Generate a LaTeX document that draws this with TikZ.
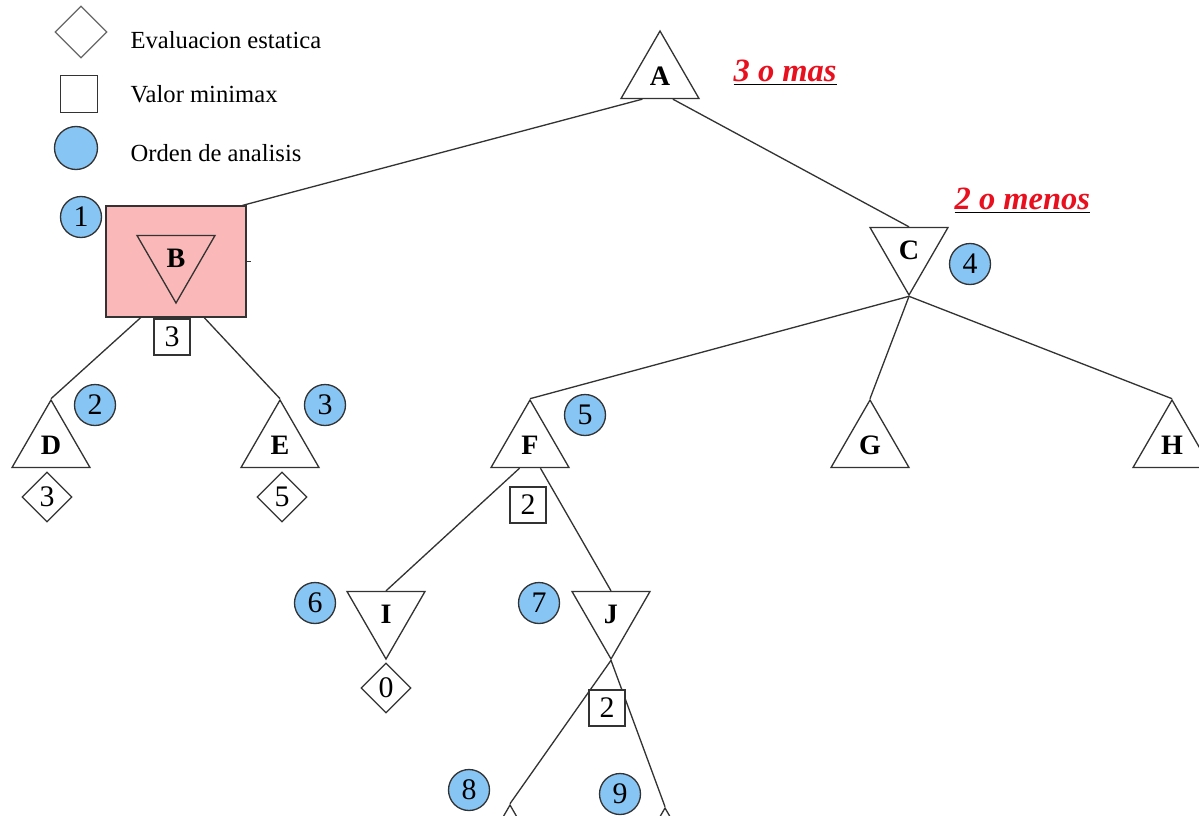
\documentclass[tikz,border=0pt]{standalone}
\usepackage{fontspec}
\setmainfont{Liberation Serif}
\usepackage{xcolor}
\usepackage{tikz}
\usetikzlibrary{shapes.geometric, calc}
\definecolor{colorO}{HTML}{87C5F5}
\definecolor{colorB}{HTML}{FBB8B8}
\definecolor{colorR}{HTML}{E8101E}
\definecolor{colorL}{HTML}{333333}
\tikzset{
  maxnode/.style={draw, regular polygon, regular polygon sides=3, minimum size=1.8cm, inner sep=0pt, font=\fontsize{16}{16}\selectfont\bfseries},
  minnode/.style={maxnode, shape border rotate=180},
  orden/.style={draw=colorL, fill=colorO, circle, minimum size=0.82cm, inner sep=0pt, font=\fontsize{17}{17}\selectfont},
  valor/.style={draw, fill=white, rectangle, minimum size=0.72cm, inner sep=0pt, font=\fontsize{17}{17}\selectfont},
  estatica/.style={draw, fill=white, diamond, minimum size=1cm, inner sep=0pt, font=\fontsize{17}{17}\selectfont},
  leyenda/.style={anchor=west, inner sep=0pt, font=\fontsize{14}{14}\selectfont},
  cota/.style={anchor=west, inner sep=0pt, font=\fontsize{18.5}{18.5}\selectfont\bfseries\itshape}
}

\begin{document}
\begin{tikzpicture}[x=0.02cm, y=-0.02cm, line width=0.75pt, draw=colorL]
        \clip (0,0) rectangle (1199,815);

        \node[draw=black!60, diamond, minimum size=1.04cm, inner sep=0pt] (leyD) at (81,32) {};
        \node[leyenda] (leyDt) at (130,40) {Evaluacion estatica};
        \node[draw=colorL, minimum size=0.74cm, inner sep=0pt] (leyV) at (79,94) {};
        \node[leyenda] (leyVt) at (130,94) {Valor minimax};
        \node[orden, minimum size=0.86cm] (leyO) at (76,148) {};
        \node[leyenda] (leyOt) at (130,153) {Orden de analisis};

        \node[draw=colorL, fill=colorB, minimum width=2.8cm, minimum height=2.22cm] (Bcaja) at (176,261.5) {};
        \draw (Bcaja.east) -- ++(4,0);

        \node[maxnode] (A) at (660,76) {A};
        \node[minnode] (B) at (176,258) {B};
        \node[minnode] (C) at (909,250) {C};
        \node[maxnode] (D) at (51,445) {D};
        \node[maxnode] (E) at (280,445) {E};
        \node[maxnode] (F) at (530,445) {F};
        \node[maxnode] (G) at (870,445) {G};
        \node[maxnode] (H) at (1172,445) {H};
        \node[minnode] (I) at (386,614) {I};
        \node[minnode] (J) at (611,614) {J};
        \node[maxnode] (K) at (510,850) {};
        \node[maxnode] (L) at (665,853) {};

        \draw ($(A.corner 2)!.28!(A.corner 3)$) -- ($(Bcaja.north east)+(-4,0)$);
        \draw ($(A.corner 2)!.66!(A.corner 3)$) -- (C.north);
        \draw ($(Bcaja.south west)!.25!(Bcaja.south east)$) -- (D.corner 1);
        \draw ($(Bcaja.south west)!.7!(Bcaja.south east)$) -- (E.corner 1);
        \draw (C.corner 1) -- (F.corner 1);
        \draw (C.corner 1) -- (G.corner 1);
        \draw (C.corner 1) -- (H.corner 1);
        \draw ($(F.corner 2)!.37!(F.corner 3)$) -- (I.north);
        \draw ($(F.corner 2)!.63!(F.corner 3)$) -- (J.north);
        \draw (J.corner 1) -- (K.corner 1);
        \draw (J.corner 1) -- (L.corner 1);

        \node[valor] (vB) at (172,337) {3};
        \node[valor] (vF) at (528,505) {2};
        \node[valor] (vJ) at (607,708) {2};
        \node[estatica] (eD) at (47,497) {3};
        \node[estatica] (eE) at (282,497) {5};
        \node[estatica] (eI) at (386,688) {0};

        \node[orden] (o1) at (81,217) {1};
        \node[orden] (o2) at (95,405) {2};
        \node[orden] (o3) at (325,405) {3};
        \node[orden] (o4) at (970,264) {4};
        \node[orden] (o5) at (585,415) {5};
        \node[orden] (o6) at (315,603) {6};
        \node[orden] (o7) at (539,603) {7};
        \node[orden] (o8) at (469,790) {8};
        \node[orden] (o9) at (620,794) {9};

        \node[cota] (masA) at (733,73) {\underline{\textcolor{colorR}{3 o mas}}};
        \node[cota] (menosC) at (954,201) {\underline{\textcolor{colorR}{2 o menos}}};
    \end{tikzpicture}
\end{document}
